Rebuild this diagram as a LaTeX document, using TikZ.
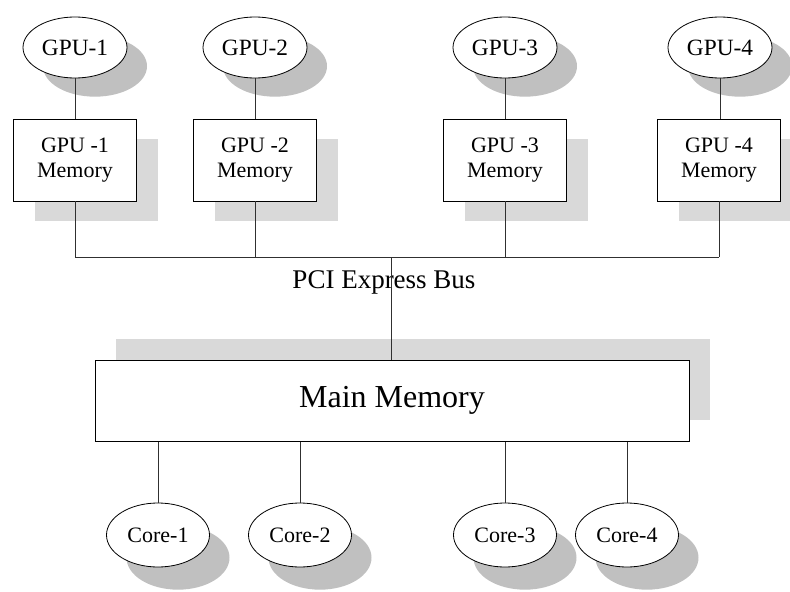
\documentclass[tikz,border=0pt]{standalone}
\usepackage{fontspec}
\setmainfont{Liberation Serif}
\usetikzlibrary{shapes.geometric,shadows}
\definecolor{ovalshade}{HTML}{C0C0C0}
\definecolor{boxshade}{HTML}{D9D9D9}
\definecolor{ink}{HTML}{303030}
\begin{document}
\begin{tikzpicture}[x=0.75pt,y=-0.75pt,
  every node/.style={text=black},
  link/.style={draw=ink,line width=0.75pt},
  gpuoval/.style={ellipse,draw=black,line width=0.6pt,fill=white,
    minimum width=78pt,minimum height=45.75pt,inner sep=0pt,
    font=\fontsize{17.5}{19}\selectfont,
    drop shadow={shadow xshift=15pt,shadow yshift=-14pt,fill=ovalshade,opacity=1}},
  coreoval/.style={ellipse,draw=black,line width=0.6pt,fill=white,
    minimum width=77.25pt,minimum height=48pt,inner sep=0pt,
    font=\fontsize{16.5}{18}\selectfont,
    drop shadow={shadow xshift=15pt,shadow yshift=-17pt,fill=ovalshade,opacity=1}},
  membox/.style={rectangle,draw=black,line width=0.6pt,fill=white,
    minimum width=92.25pt,minimum height=61.5pt,inner sep=0pt,
    align=center,font=\fontsize{16.5}{19}\selectfont,
    drop shadow={shadow xshift=15.75pt,shadow yshift=-15pt,fill=boxshade,opacity=1}},
  mainbox/.style={rectangle,draw=black,line width=0.75pt,fill=white,
    minimum width=445.5pt,minimum height=60.75pt,inner sep=0pt,
    font=\fontsize{24}{27}\selectfont,
    drop shadow={shadow xshift=15.75pt,shadow yshift=15.75pt,fill=boxshade,opacity=1}},
  buslabel/.style={font=\fontsize{20.25}{22}\selectfont,inner sep=0pt}]

  \clip (0,0) rectangle (790,592);
  \fill[white] (0,0) rectangle (790,592);

  % GPUs and their memories
  \node[gpuoval] (g1) at (75,47.5) {GPU-1};
  \node[gpuoval] (g2) at (255,47.5) {GPU-2};
  \node[gpuoval] (g3) at (505,47.5) {GPU-3};
  \node[gpuoval] (g4) at (720,47.5) {GPU-4};

  \node[membox] (m1) at (75,160) {GPU -1\\Memory};
  \node[membox] (m2) at (255,160) {GPU -2\\Memory};
  \node[membox] (m3) at (505,160) {GPU -3\\Memory};
  \node[membox] (m4) at (719,160) {GPU -4\\Memory};

  % main memory and cores
  \node[mainbox] (mm) at (392,400.5) {Main Memory};

  \node[coreoval] (c1) at (158,535) {Core-1};
  \node[coreoval] (c2) at (300,535) {Core-2};
  \node[coreoval] (c3) at (505,535) {Core-3};
  \node[coreoval] (c4) at (627,535) {Core-4};

  % PCI Express bus
  \coordinate (b1) at (75,257);
  \coordinate (b2) at (255,257);
  \coordinate (b3) at (505,257);
  \coordinate (b4) at (719,257);
  \coordinate (bm) at (391,257);
  \node[buslabel,anchor=base] (pci) at (384,288) {PCI Express Bus};

  \foreach \i in {1,2,3,4} {
    \draw[link] (g\i.south) -- (g\i.south |- m\i.north);
    \draw[link] (m\i.south -| b\i) -- (b\i);
    \draw[link] (c\i.north) -- (c\i.north |- mm.south);
  }
  \draw[link] (b1) -- (b4);
  \draw[link] (bm) -- (bm |- mm.north);
\end{tikzpicture}
\end{document}
